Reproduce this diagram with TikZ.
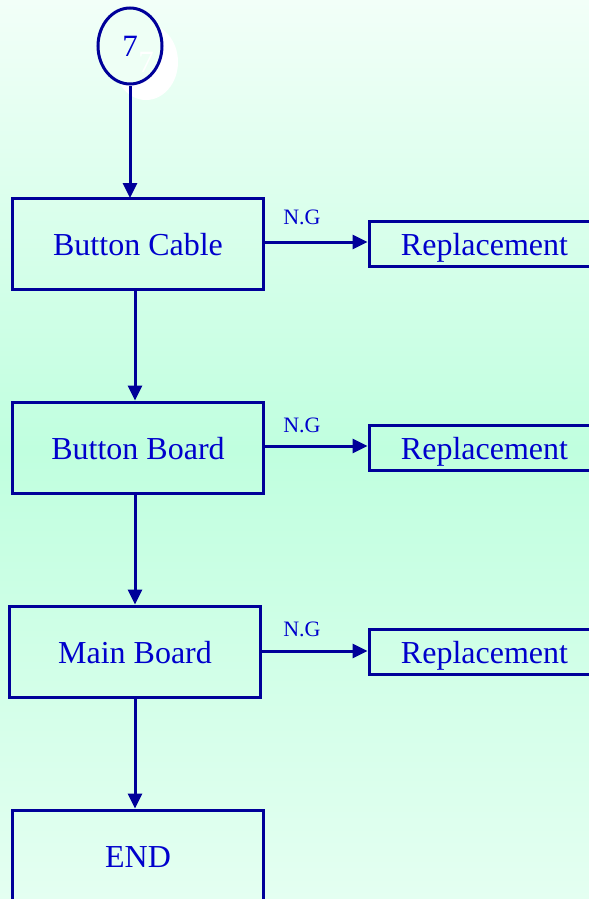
\documentclass[tikz,border=0pt]{standalone}
\usepackage{fontspec}
\setmainfont{Liberation Serif}
\usetikzlibrary{arrows.meta,shapes.geometric}
\definecolor{linecol}{HTML}{000099}
\definecolor{textcol}{HTML}{0000CC}
\definecolor{bgtop}{HTML}{F2FFF8}
\definecolor{bgmid}{HTML}{C0FFDF}
\definecolor{bgbot}{HTML}{E4FFF1}
\definecolor{circfill}{HTML}{EEFFF5}
\tikzset{
  boxfont/.style={text=textcol,font=\fontsize{32bp}{38bp}\selectfont,text height=23bp,text depth=0pt},
  stepbox/.style={draw=linecol,line width=3bp,rectangle,minimum width=250bp,minimum height=91bp,inner sep=0pt,boxfont},
  replbox/.style={draw=linecol,line width=3bp,rectangle,minimum width=231bp,minimum height=45bp,inner sep=0pt,boxfont},
  flow/.style={draw=linecol,line width=3bp,-{Triangle[length=15bp,width=14bp]}},
  nglabel/.style={text=textcol,font=\fontsize{22bp}{26bp}\selectfont,inner sep=0pt}
}
\begin{document}
\begin{tikzpicture}[x=1bp,y=-1bp]
\useasboundingbox (0,0) rectangle (589,899);
\clip (0,0) rectangle (589,899);
\shade[top color=bgtop,bottom color=bgbot,middle color=bgmid] (0,0) rectangle (589,899);
% shadow of connector
\node[ellipse,fill=white,minimum width=64bp,minimum height=76bp,inner sep=0pt] (sh) at (146,62) {};
\node[ellipse,draw=linecol,fill=circfill,line width=3bp,minimum width=64bp,minimum height=76bp,inner sep=0pt,text=textcol,font=\fontsize{31bp}{36bp}\selectfont] (c7) at (130,46) {7};
\node[text=white,font=\fontsize{31bp}{36bp}\selectfont,inner sep=0pt] (sh7) at (sh.center) {7};
\node[stepbox] (b1) at (138,243.5) {Button Cable};
\node[stepbox] (b2) at (138,447.5) {Button Board};
\node[stepbox] (b3) at (135,651.5) {Main Board};
\node[stepbox] (b4) at (138,855.5) {END};
\node[replbox] (r1) at (484.5,243.5) {Replacement};
\node[replbox] (r2) at (484.5,447.5) {Replacement};
\node[replbox] (r3) at (484.5,652) {Replacement};
\coordinate (t1) at (130,198);
\draw[flow] (c7.south) -- (t1);
\draw[flow] (b1.south -| 135,0) -- (b2.north -| 135,0);
\draw[flow] (b2.south -| 135,0) -- (b3.north -| 135,0);
\draw[flow] (b3.south -| 135,0) -- (b4.north -| 135,0);
\draw[flow] (b1.east |- 0,242) -- (r1.west |- 0,242);
\draw[flow] (b2.east |- 0,446) -- (r2.west |- 0,446);
\draw[flow] (b3.east |- 0,651) -- (r3.west |- 0,651);
\node[nglabel] (n1) at (302,217) {N.G};
\node[nglabel] (n2) at (302,425) {N.G};
\node[nglabel] (n3) at (302,629) {N.G};
\end{tikzpicture}
\end{document}
